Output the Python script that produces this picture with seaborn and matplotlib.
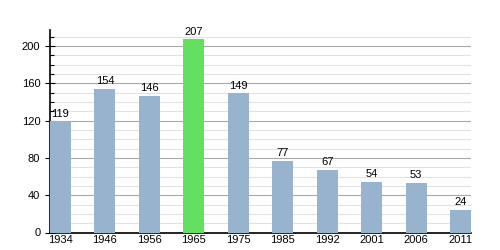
import matplotlib
matplotlib.use("Agg")
import matplotlib.pyplot as plt
import seaborn as sns
import pandas as pd
from matplotlib.ticker import MultipleLocator

years = ["1934", "1946", "1956", "1965", "1975", "1985", "1992", "2001", "2006", "2011"]
population = [119, 154, 146, 207, 149, 77, 67, 54, 53, 24]
highlight_year = "1965"

sns.set_theme(style="white")
plt.rcParams['font.family'] = ['Liberation Sans', 'DejaVu Sans']

df = pd.DataFrame({"year": years, "pop": population})
blue = "#98b3cd"
green = "#63e05f"
palette = {y: (green if y == highlight_year else blue) for y in years}

fig = plt.figure(figsize=(5, 2.5), dpi=100)
ax = fig.add_axes([0.1, 0.07, 0.842, 0.81])
w = 0.47
sns.barplot(data=df, x="year", y="pop", hue="year", palette=palette, legend=False,
            width=w, ax=ax, saturation=1, edgecolor="none", zorder=3)

ax.set_xlim(-w / 2, len(years) - 1 + w / 2)
ax.set_ylim(0, 217)
ax.yaxis.set_major_locator(MultipleLocator(40))
ax.yaxis.set_minor_locator(MultipleLocator(10))
ax.grid(which="major", axis="y", color="#a8a8a8", linewidth=0.8, zorder=0)
ax.grid(which="minor", axis="y", color="#e2e2e2", linewidth=0.8, zorder=0)
ax.grid(False, axis="x")
ax.set_axisbelow(True)

for s in ["top", "right"]:
    ax.spines[s].set_visible(False)
for s in ["left", "bottom"]:
    ax.spines[s].set_color("black")
    ax.spines[s].set_linewidth(1.2)

ax.tick_params(axis="y", which="major", direction="inout", length=7, width=0.8,
               colors="black", labelsize=8, left=True)
ax.tick_params(axis="y", which="minor", direction="in", length=3, width=0.8,
               colors="black", left=True)
ax.tick_params(axis="x", length=0, labelsize=8, colors="black", pad=2)
ax.set_xlabel("")
ax.set_ylabel("")

for i, v in enumerate(population):
    ax.annotate(str(v), (i, v), xytext=(0, 2), textcoords="offset points",
                ha="center", va="bottom", fontsize=8, color="black")

fig.savefig("out.png", dpi=100)
